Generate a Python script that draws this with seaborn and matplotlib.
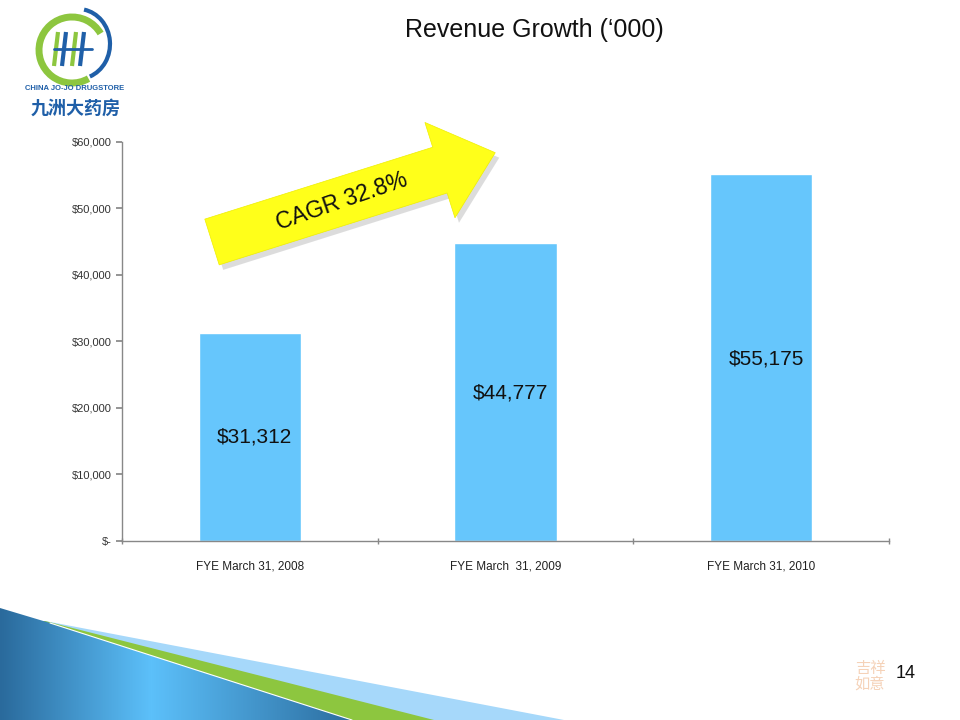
import numpy as np
import pandas as pd
import matplotlib
matplotlib.use("Agg")
import matplotlib.pyplot as plt
import seaborn as sns
from matplotlib.patches import Polygon, Arc
from matplotlib.ticker import FuncFormatter, FixedLocator

# chart data
years = ["FYE March 31, 2008", "FYE March  31, 2009", "FYE March 31, 2010"]
revenue = [31312, 44777, 55175]
bar_labels = ["$31,312", "$44,777", "$55,175"]
yticks = [0, 10000, 20000, 30000, 40000, 50000, 60000]

sns.set_theme(style="white")
plt.rcParams["font.family"] = ["Liberation Sans", "Noto Sans CJK SC", "DejaVu Sans"]

df = pd.DataFrame({"year": years, "revenue": revenue})

fig = plt.figure(figsize=(9.6, 7.2), dpi=100)
ax = fig.add_axes([0.127, 0.249, 0.799, 0.554])
ax.set_facecolor("none")

sns.barplot(data=df, x="year", y="revenue", color="#66C6FC", saturation=1,
            width=0.4, ax=ax)

ax.set_ylim(0, 60000)
ax.set_xlim(-0.5, 2.5)
ax.yaxis.set_major_locator(FixedLocator(yticks))
ax.yaxis.set_major_formatter(FuncFormatter(lambda v, p: "$-" if v == 0 else f"${v:,.0f}"))
ax.set_xlabel("")
ax.set_ylabel("")
ax.tick_params(axis="y", labelsize=8, colors="#333333", length=4, direction="out", left=True, color="#888888")
ax.tick_params(axis="x", labelsize=8.5, colors="#222222", length=0, pad=14)
ax.xaxis.set_minor_locator(FixedLocator([-0.5, 0.5, 1.5, 2.5]))
ax.tick_params(axis="x", which="minor", length=5, bottom=True, color="#888888", direction="inout")
for s in ["top", "right"]:
    ax.spines[s].set_visible(False)
for s in ["left", "bottom"]:
    ax.spines[s].set_color("#888888")
    ax.spines[s].set_linewidth(1)

# value labels inside bars
label_y = [15600, 22200, 27400]
for i, (t, yv) in enumerate(zip(bar_labels, label_y)):
    ax.text(i + 0.02, yv, t, ha="center", va="center", fontsize=15, color="#111111")

# overlay for slide decorations
deco = fig.add_axes([0, 0, 1, 1], zorder=5)
deco.set_xlim(0, 960)
deco.set_ylim(720, 0)
deco.axis("off")
deco.patch.set_alpha(0)

fig.text(0.557, 0.958, "Revenue Growth (\u2018000)", ha="center", va="center",
         fontsize=18, color="#111111")

# yellow CAGR arrow
ang = np.deg2rad(17.5)
cx, cy = 212, 242
L, w, h, hl = 297, 24, 50, 58
pts = np.array([[0, -w], [L - hl, -w], [L - hl, -h], [L, 0], [L - hl, h], [L - hl, w], [0, w]])
rot = np.array([[np.cos(ang), -np.sin(ang)], [np.sin(ang), np.cos(ang)]])
p = pts @ rot.T
p[:, 1] = -p[:, 1]
arrow = p + [cx, cy]
deco.add_patch(Polygon(arrow + [4, 5], closed=True, facecolor="#bbbbbb", alpha=0.5, edgecolor="none"))
deco.add_patch(Polygon(arrow, closed=True, facecolor="#FFFF1A", edgecolor="#eeee00", lw=0.5))
deco.text(342, 201, "CAGR 32.8%", rotation=19, ha="center", va="center",
          fontsize=16.5, color="#111111", rotation_mode="anchor")

# bottom swooshes
deco.add_patch(Polygon([[45, 621], [564, 720], [0, 720], [0, 621]], facecolor="#A6D8FA", edgecolor="none"))
deco.add_patch(Polygon([[45, 621], [434, 720], [0, 720], [0, 621]], facecolor="#8DC63F", edgecolor="none"))
grad = np.linspace(0, 1, 360)
grad = np.interp(grad, [0, 0.42, 1], [0, 1, 0])
cmap = matplotlib.colors.LinearSegmentedColormap.from_list("b", ["#2A6A9C", "#5CC0FA"])
im = deco.imshow(grad[None, :], extent=[0, 360, 720, 605], cmap=cmap, aspect="auto", zorder=2)
clip = Polygon([[0, 608], [50, 623], [352, 720], [0, 720]], facecolor="none", edgecolor="none")
deco.add_patch(clip)
im.set_clip_path(clip)
deco.plot([50, 352], [623, 720], color="white", lw=0.8, zorder=3)

# page number and seal
deco.text(906, 674, "14", ha="center", va="center", fontsize=13, color="#111111")
deco.text(870, 676, "吉祥\n如意", ha="center", va="center", fontsize=11, color="#F5D2B8",
          linespacing=0.9, family=["Noto Sans CJK SC"])

# logo
deco.add_patch(Arc((72, 50), 66, 66, theta1=60, theta2=330, color="#8DC63F", lw=5))
deco.add_patch(Arc((78, 44), 64, 70, theta1=-80, theta2=70, color="#1F5FA8", lw=3))
for xx, col in zip([58, 66, 76, 84], ["#8DC63F", "#1F5FA8", "#8DC63F", "#1F5FA8"]):
    deco.plot([xx, xx - 4], [32, 66], color=col, lw=3, solid_capstyle="butt")
deco.plot([54, 92], [49, 49], color="#1F5FA8", lw=2)
deco.text(75, 88, "CHINA JO-JO DRUGSTORE", ha="center", va="center", fontsize=5.5,
          color="#1F5FA8", fontweight="bold")
deco.text(76, 108, "九洲大药房", ha="center", va="center", fontsize=13,
          color="#1F5FA8", fontweight="bold", family=["Noto Sans CJK SC"])

fig.savefig("out.png", dpi=100)
